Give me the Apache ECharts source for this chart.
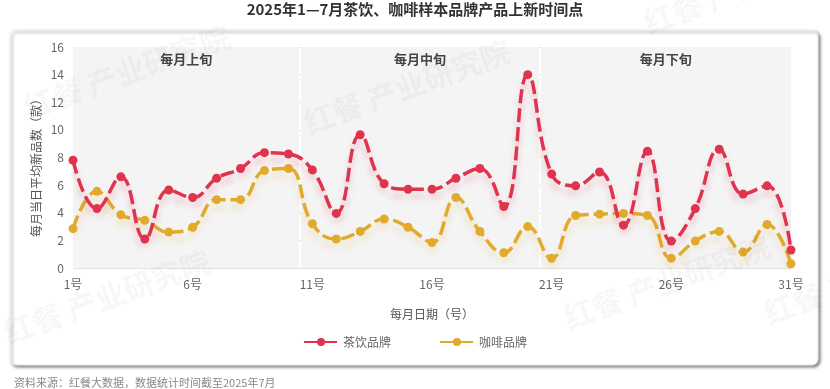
<!DOCTYPE html>
<html>
<head>
<meta charset="utf-8">
<script src="https://cdn.jsdelivr.net/npm/echarts@6/dist/echarts.min.js"></script>
<style>
html,body{margin:0;padding:0;background:#fff;}
#c{width:830px;height:389px;}
</style>
</head>
<body>
<div id="c"></div>
<script>
var days = ['1号','2号','3号','4号','5号','6号','7号','8号','9号','10号','11号','12号','13号','14号','15号','16号','17号','18号','19号','20号','21号','22号','23号','24号','25号','26号','27号','28号','29号','30号','31号'];
var teaValues = [7.8,4.3,6.6,2.1,5.65,5.1,6.5,7.2,8.35,8.25,7.1,3.95,9.65,6.1,5.7,5.7,6.5,7.2,4.45,14.0,6.8,5.95,6.95,3.1,8.45,1.95,4.3,8.6,5.35,5.95,1.3];
var coffeeValues = [2.85,5.55,3.85,3.45,2.6,2.95,4.95,4.95,7.05,7.2,3.2,2.1,2.65,3.55,2.95,1.85,5.1,2.65,1.1,3.0,0.7,3.8,3.9,3.95,3.8,0.7,1.95,2.65,1.15,3.15,0.3];
var periodNames = ['每月上旬','每月中旬','每月下旬'];
var periodRanges = [[0,9.46],[9.54,19.46],[19.54,30]];

var chart = echarts.init(document.getElementById('c'), null, {renderer:'canvas'});
var teaColor = '#e0344e', coffeeColor = '#e2aa2c';
function wm(x,y){
  return {type:'text', x:x, y:y, rotation:0.35, silent:true, z:100,
    style:{text:'红餐 产业研究院', fill:'rgba(0,0,0,0.03)', font:'bold 30px "Noto Sans CJK SC"'}};
}
var option = {
  animation:false,
  backgroundColor:'#fff',
  title:{text:'2025年1—7月茶饮、咖啡样本品牌产品上新时间点', left:'center', top:-3,
    textStyle:{fontSize:15, fontWeight:'bold', color:'#333', fontFamily:'Noto Sans CJK SC'}},
  graphic:[
    {type:'rect', shape:{x:10, y:30, width:808, height:335, r:6}, z:-10, silent:true,
      style:{fill:'#fff', stroke:'#ececec', lineWidth:1, shadowColor:'rgba(0,0,0,0.45)', shadowBlur:3, shadowOffsetX:2, shadowOffsetY:2}},
    {type:'text', x:14, y:377, silent:true,
      style:{text:'资料来源：红餐大数据，数据统计时间截至2025年7月', fill:'#888', font:'11px "Noto Sans CJK SC"'}},
    wm(20,95), wm(300,110), wm(640,10), wm(0,320), wm(560,305), wm(760,300)
  ],
  legend:{bottom:36, left:'center', itemGap:48, itemWidth:34, itemHeight:10,
    textStyle:{fontSize:12, color:'#666', fontFamily:'Noto Sans CJK SC'},
    data:['茶饮品牌','咖啡品牌']},
  grid:{left:73, right:39, top:47, bottom:121},
  xAxis:[{
    type:'category', data:days, boundaryGap:false,
    name:'每月日期（号）', nameLocation:'middle', nameGap:40,
    nameTextStyle:{fontSize:12, color:'#555', fontFamily:'Noto Sans CJK SC'},
    axisLine:{show:false}, axisTick:{show:false},
    axisLabel:{interval:4, color:'#666', fontSize:12, margin:10, fontFamily:'Noto Sans CJK SC'},
    splitLine:{show:false}
  },{
    type:'value', min:0, max:30, show:false
  }],
  yAxis:{
    type:'value', min:0, max:16, interval:2,
    name:'每月当日平均新品数（款）', nameLocation:'middle', nameGap:31, nameMoveOverlap:false,
    nameTextStyle:{fontSize:12, color:'#555', fontFamily:'Noto Sans CJK SC', padding:[0,15,0,0]},
    axisLine:{show:false}, axisTick:{show:false},
    axisLabel:{color:'#666', fontSize:12, margin:9, fontFamily:'Noto Sans CJK SC'},
    splitLine:{lineStyle:{color:'#e2e2e2', width:1}}
  },
  series:[
    {
      type:'line', xAxisIndex:1, data:[], silent:true, z:1,
      markArea:{silent:true,
        itemStyle:{color:'#f4f4f4'},
        label:{position:'insideTop', distance:6, fontSize:13, fontWeight:'bold', color:'#444', fontFamily:'Noto Sans CJK SC'},
        data:periodRanges.map(function(r,i){return [{name:periodNames[i], xAxis:r[0], yAxis:0},{xAxis:r[1], yAxis:16}];})
      }
    },
    {
      name:'茶饮品牌', type:'line', data:teaValues, smooth:0.45, z:3,
      symbol:'circle', symbolSize:9,
      itemStyle:{color:teaColor},
      lineStyle:{color:teaColor, width:3.5, type:[14,5], shadowColor:'rgba(224,52,78,0.28)', shadowBlur:6, shadowOffsetY:7}
    },
    {
      name:'咖啡品牌', type:'line', data:coffeeValues, smooth:0.45, z:2,
      symbol:'circle', symbolSize:9,
      itemStyle:{color:coffeeColor},
      lineStyle:{color:coffeeColor, width:3.5, type:[14,5], shadowColor:'rgba(226,170,44,0.28)', shadowBlur:6, shadowOffsetY:7}
    }
  ]
};
chart.setOption(option);
</script>
</body>
</html>
